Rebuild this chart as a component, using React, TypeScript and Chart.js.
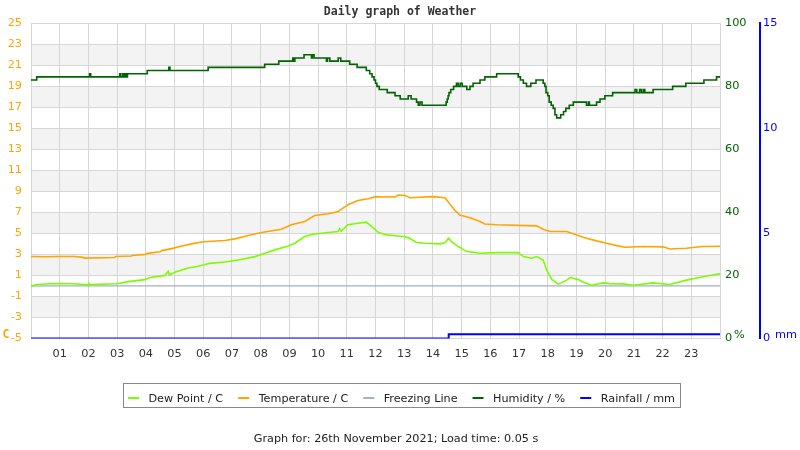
import React, { useEffect, useRef } from 'react';
import { Chart, registerables } from 'chart.js';

Chart.register(...registerables);

// ---- Data (hour of day -> value) ----
const hourLabels = ['01','02','03','04','05','06','07','08','09','10','11','12','13','14','15','16','17','18','19','20','21','22','23'];

const seriesNames = ['Dew Point / C', 'Temperature / C', 'Freezing Line', 'Humidity / %', 'Rainfall / mm'];
const seriesColors = ['#7cfc00', '#ffa500', '#a4b0c4', '#006400', '#0000ff'];

const dewHours = [0,0.2,0.66,1.0,1.5,1.99,2.02,2.05,2.98,3.39,3.97,4.14,4.66,4.78,4.82,5.01,5.47,5.82,6.23,6.75,7.21,7.8,8.15,8.49,8.96,9.19,9.53,9.82,10.35,10.7,10.75,10.8,11.04,11.39,11.68,11.86,12.03,12.1,12.39,12.97,13.14,13.43,13.72,14.25,14.42,14.54,14.65,14.88,15.18,15.41,15.64,16.22,16.97,17.15,17.44,17.61,17.84,17.96,18.14,18.37,18.66,18.78,19.07,19.23,19.52,19.93,20.16,20.63,20.98,21.67,22.25,22.83,23.41,23.93,24];
const dewValues = [-0.05,0.13,0.2,0.22,0.2,0.1,0.22,0.12,0.2,0.41,0.6,0.8,1.0,1.4,1.05,1.3,1.7,1.87,2.15,2.28,2.47,2.79,3.1,3.43,3.81,4.06,4.7,4.92,5.08,5.18,5.45,5.2,5.82,5.97,6.07,5.66,5.27,5.08,4.86,4.7,4.6,4.13,4.06,4.0,4.1,4.54,4.22,3.75,3.27,3.2,3.11,3.17,3.17,2.79,2.63,2.79,2.47,1.52,0.62,0.17,0.55,0.8,0.6,0.38,0.06,0.29,0.22,0.19,0.06,0.29,0.13,0.55,0.87,1.13,1.15];

const tempHours = [0,0.5,1.0,1.5,1.82,1.85,2.9,2.95,3.5,3.52,4.0,4.05,4.5,4.55,4.9,5.18,5.59,6.0,6.75,7.1,7.56,8.03,8.72,9.07,9.53,9.88,10.35,10.7,11.04,11.39,11.74,12.0,12.39,12.68,12.79,13.03,13.2,14.01,14.42,14.59,14.77,14.94,15.29,15.64,15.81,16.22,17.61,17.84,18.08,18.66,18.89,19.23,19.7,20.05,20.45,20.69,21.33,22.02,22.25,22.83,23.12,23.41,24];
const tempValues = [2.8,2.78,2.8,2.8,2.72,2.65,2.7,2.8,2.85,2.9,3.0,3.1,3.25,3.36,3.55,3.75,4.0,4.2,4.32,4.48,4.8,5.08,5.4,5.82,6.13,6.7,6.87,7.09,7.73,8.14,8.3,8.5,8.46,8.48,8.65,8.6,8.4,8.5,8.4,7.8,7.18,6.74,6.48,6.13,5.9,5.82,5.72,5.4,5.18,5.18,4.96,4.64,4.29,4.06,3.81,3.68,3.75,3.72,3.52,3.59,3.68,3.75,3.78];

const freezeHours = [0, 24];
const freezeValues = [0, 0];

const humHours = [0,0.2,2.04,2.08,3.09,3.13,3.2,3.24,3.28,3.32,3.36,4.05,4.8,4.84,6.17,8.14,8.63,9.12,9.16,9.19,9.51,9.77,9.8,9.86,10.29,10.33,10.41,10.7,10.79,11.1,11.36,11.68,11.8,11.88,11.95,12.0,12.05,12.13,12.41,12.68,12.86,13.14,13.24,13.43,13.49,13.55,13.62,14.42,14.46,14.5,14.53,14.56,14.62,14.72,14.82,14.88,14.95,15.02,15.18,15.29,15.4,15.64,15.81,16.22,16.97,17.05,17.15,17.26,17.41,17.59,17.84,17.9,17.94,18.0,18.05,18.12,18.19,18.25,18.31,18.45,18.55,18.63,18.75,18.89,19.35,19.42,19.45,19.7,19.82,19.99,20.26,21.04,21.1,21.2,21.26,21.33,21.38,21.67,22.35,22.81,23.44,23.88,24];
const humValues = [82,83,84,83,84,83,84,83,84,83,84,85,86,85,86,87,88,89,88,89,90,89,90,89,88,89,88,89,88,87,86,85,84,83,82,81,80,79,78,77,76,77,76,75,74,75,74,74,75,76,77,78,79,80,81,80,81,80,79,80,81,82,83,84,83,82,81,80,81,82,81,80,78,77,75,74,73,71,70,71,72,73,74,75,74,75,74,75,76,77,78,79,78,79,78,79,78,79,80,81,82,83,83];

const rainHours = [0, 14.55, 24];
const rainValues = [0, 0.2, 0.2];

const unitLabels = ['C', '%', 'mm'];
const titleText = 'Daily graph of Weather';
const footerText = 'Graph for: 26th November 2021; Load time: 0.05 s';

const toXY = (xs: number[], ys: number[]) => xs.map((x, i) => ({ x, y: ys[i] }));

const FONT = '"DejaVu Sans"';
const GRID = '#d6d6d6';

const bandsPlugin = {
  id: 'bands',
  beforeDraw(chart: any) {
    const { ctx, chartArea } = chart;
    const ys = chart.scales.y;
    const ticks = ys.ticks;
    ctx.save();
    ctx.fillStyle = '#f3f3f3';
    for (let i = 0; i < ticks.length - 1; i++) {
      if (i % 2 === 1) {
        const y1 = ys.getPixelForValue(ticks[i].value);
        const y2 = ys.getPixelForValue(ticks[i + 1].value);
        ctx.fillRect(chartArea.left, y2, chartArea.right - chartArea.left, y1 - y2);
      }
    }
    ctx.restore();
  },
};

const extrasPlugin = {
  id: 'extras',
  afterDraw(chart: any) {
    const { ctx, chartArea } = chart;
    const b = chartArea.bottom;
    ctx.save();
    ctx.textAlign = 'left';
    ctx.textBaseline = 'alphabetic';
    // unit labels
    ctx.font = 'bold 11.5px "DejaVu Sans Mono"';
    ctx.fillStyle = seriesColors[1];
    ctx.fillText(unitLabels[0], 2.5, b);
    ctx.font = `11.3px ${FONT}`;
    ctx.fillStyle = seriesColors[3];
    ctx.fillText(unitLabels[1], chartArea.right + 14, b);
    ctx.fillStyle = seriesColors[4];
    ctx.fillText(unitLabels[2], chartArea.right + 55, b);

    // legend
    ctx.font = `11.2px ${FONT}`;
    const mW = 11, gap = 9.5, sep = 15, padL = 4.5, padR = 5;
    const widths = seriesNames.map((n) => ctx.measureText(n).width);
    let total = padL + padR + sep * (seriesNames.length - 1);
    widths.forEach((w) => { total += mW + gap + w; });
    const boxLeft = Math.round(401 - total / 2) + 0.5;
    const boxTop = 383.5;
    ctx.strokeStyle = '#888888';
    ctx.lineWidth = 1;
    ctx.strokeRect(boxLeft, boxTop, Math.round(total), 24);
    let x = boxLeft + padL;
    seriesNames.forEach((n, i) => {
      ctx.fillStyle = seriesColors[i];
      ctx.fillRect(x, 397, mW, 2);
      x += mW + gap;
      ctx.fillStyle = '#222222';
      ctx.fillText(n, x, 401.7);
      x += widths[i] + sep;
    });

    // footer
    ctx.textAlign = 'center';
    ctx.fillStyle = '#222222';
    ctx.fillText(footerText, 396, 441.7);
    ctx.restore();
  },
};

export default function App() {
  const canvasRef = useRef<HTMLCanvasElement | null>(null);

  useEffect(() => {
    const canvas = canvasRef.current;
    if (!canvas) return;
    const chart = new Chart(canvas, {
      type: 'line',
      data: {
        datasets: [
          { label: seriesNames[0], data: toXY(dewHours, dewValues), borderColor: seriesColors[0], backgroundColor: seriesColors[0], borderWidth: 1.6, pointRadius: 0, yAxisID: 'y', tension: 0 },
          { label: seriesNames[1], data: toXY(tempHours, tempValues), borderColor: seriesColors[1], backgroundColor: seriesColors[1], borderWidth: 1.6, pointRadius: 0, yAxisID: 'y', tension: 0 },
          { label: seriesNames[2], data: toXY(freezeHours, freezeValues), borderColor: seriesColors[2], backgroundColor: seriesColors[2], borderWidth: 1.2, pointRadius: 0, yAxisID: 'y' },
          { label: seriesNames[3], data: toXY(humHours, humValues), borderColor: seriesColors[3], backgroundColor: seriesColors[3], borderWidth: 1.6, pointRadius: 0, yAxisID: 'y1', stepped: true },
          { label: seriesNames[4], data: toXY(rainHours, rainValues), borderColor: seriesColors[4], backgroundColor: seriesColors[4], borderWidth: 2, pointRadius: 0, yAxisID: 'y2', stepped: true },
        ],
      },
      options: {
        responsive: false,
        animation: false,
        events: [],
        layout: { padding: { left: 0, right: 0, top: 0, bottom: 80 } },
        plugins: {
          legend: { display: false },
          tooltip: { enabled: false },
          title: {
            display: true,
            text: titleText,
            color: '#333333',
            font: { family: '"DejaVu Sans Mono"', size: 11.5, weight: 'bold', lineHeight: 1.2 },
            padding: { top: 5, bottom: 4.5 },
          },
        },
        scales: {
          x: {
            type: 'linear',
            min: 0,
            max: 24,
            grid: { color: GRID, drawTicks: false },
            border: { color: GRID },
            ticks: {
              stepSize: 1,
              autoSkip: false,
              maxRotation: 0,
              padding: 9,
              color: '#333333',
              font: { family: FONT, size: 11.3 },
              callback: (v: any) => (v >= 1 && v <= 23 ? hourLabels[v - 1] : ''),
            },
          },
          y: {
            type: 'linear',
            position: 'left',
            min: -5,
            max: 25,
            grid: { color: GRID, drawTicks: false },
            border: { color: GRID },
            ticks: { stepSize: 2, padding: 9, color: '#ffa500', font: { family: FONT, size: 11.3 } },
            afterFit: (s: any) => { s.width = 31; },
          },
          y1: {
            type: 'linear',
            position: 'right',
            min: 0,
            max: 100,
            grid: { display: false, drawTicks: false },
            border: { display: false },
            ticks: { stepSize: 20, padding: 5, color: '#006400', font: { family: FONT, size: 11.3 } },
            afterFit: (s: any) => { s.width = 40; },
          },
          y2: {
            type: 'linear',
            position: 'right',
            min: 0,
            max: 15,
            grid: { display: false, drawTicks: false },
            border: { display: true, color: '#0000ff', width: 2 },
            ticks: { stepSize: 5, padding: 3, color: '#0000ff', font: { family: FONT, size: 11.3 } },
            afterFit: (s: any) => { s.width = 40; },
          },
        },
      } as any,
      plugins: [bandsPlugin, extrasPlugin],
    });
    return () => chart.destroy();
  }, []);

  return (
    <div style={{ position: 'fixed', left: 0, top: 0, width: 800, height: 450, background: '#ffffff' }}>
      <canvas ref={canvasRef} width={800} height={450} style={{ display: 'block' }} />
    </div>
  );
}
